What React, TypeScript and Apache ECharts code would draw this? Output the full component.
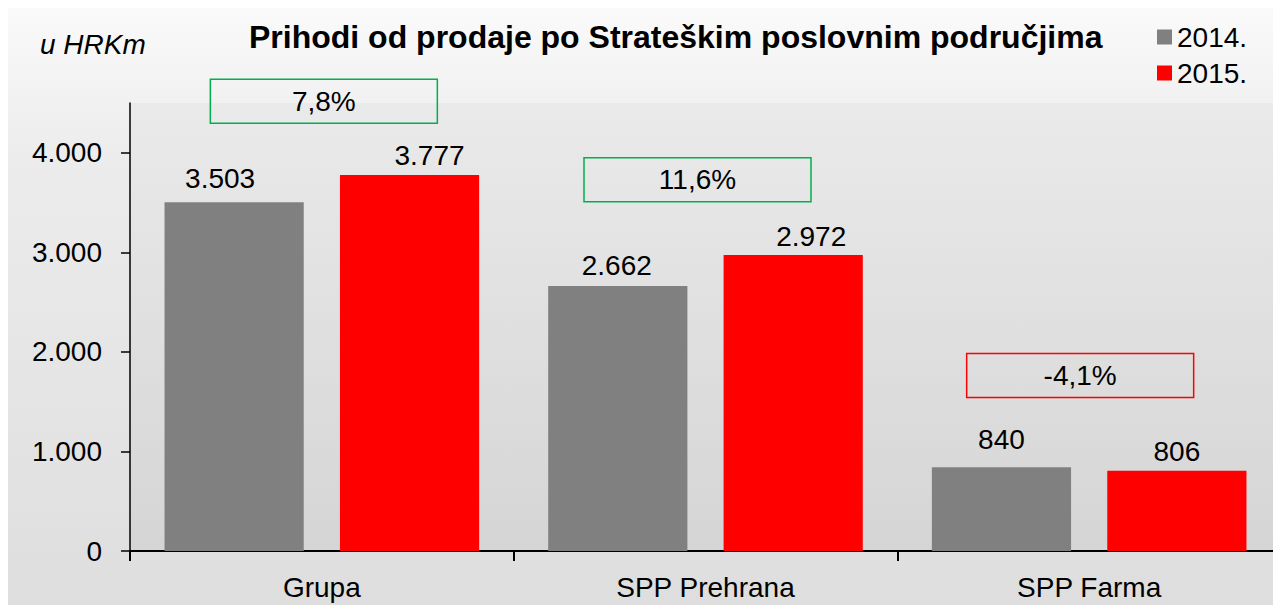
import React, { useEffect, useRef } from "react";
import * as echarts from "echarts";

const categories = ["Grupa", "SPP Prehrana", "SPP Farma"];
const values2014 = [3503, 2662, 840];
const values2015 = [3777, 2972, 806];
const changeLabels = ["7,8%", "11,6%", "-4,1%"];
// vertical anchor of each change box, in axis units (HRKm)
const changeLevels = [4518, 3729, 1764];
const yTickValues = [0, 1000, 2000, 3000, 4000];
const seriesNames = ["2014.", "2015."];

// manual label nudges as in the original
const offsets2014 = [[-14, -5], [-1, -1], [0, -9]];
const offsets2015 = [[20, 0], [18, 0], [0, 0]];
const boxOffsets = [[2, 0], [-8, 0], [-9, 0]];

const FONT = "'Liberation Sans', Arial, sans-serif";
const fmt = (n: number) => String(n).replace(/\B(?=(\d{3})+(?!\d))/g, ".");

export default function App() {
  const ref = useRef<HTMLDivElement>(null);
  useEffect(() => {
    if (!ref.current) return;
    const chart = echarts.init(ref.current, undefined, { renderer: "svg" });
    const barLabel = {
      show: true,
      position: "top",
      distance: 5,
      fontSize: 28,
      color: "#000",
      fontFamily: FONT,
      formatter: (p: any) => fmt(p.value),
    };
    chart.setOption({
      animation: false,
      backgroundColor: "transparent",
      textStyle: { fontFamily: FONT },
      title: [
        {
          text: "Prihodi od prodaje po Strateškim poslovnim područjima",
          left: 241,
          top: 13,
          padding: 0,
          textStyle: { fontSize: 32, fontWeight: "bold", color: "#000", fontFamily: FONT },
        },
        {
          text: "u HRKm",
          left: 32,
          top: 22,
          padding: 0,
          textStyle: { fontSize: 28, fontWeight: "normal", fontStyle: "italic", color: "#000", fontFamily: FONT },
        },
      ],
      legend: {
        data: seriesNames.map((n) => ({ name: n, icon: "rect" })),
        orient: "vertical",
        left: 1149,
        top: 15,
        padding: 0,
        itemWidth: 15,
        itemHeight: 15,
        itemGap: 8,
        textStyle: { fontSize: 28, color: "#000", fontFamily: FONT },
      },
      grid: {
        left: 122,
        right: 0,
        top: 95,
        bottom: 54,
        show: true,
        borderWidth: 0,
        backgroundColor: new echarts.graphic.LinearGradient(0, 0, 0, 1, [
          { offset: 0, color: "#eaeaea" },
          { offset: 1, color: "#d5d5d5" },
        ]),
      },
      xAxis: {
        type: "category",
        data: categories,
        axisLine: { lineStyle: { color: "#000", width: 2 } },
        axisTick: { show: true, length: 10, lineStyle: { color: "#000", width: 2 } },
        axisLabel: { fontSize: 28, color: "#000", margin: 22, fontFamily: FONT },
        splitLine: { show: false },
      },
      yAxis: {
        type: "value",
        min: 0,
        max: 4500,
        interval: 500,
        axisLine: { show: true, lineStyle: { color: "#000", width: 1.5 } },
        axisTick: { show: true, length: 9, customValues: yTickValues, lineStyle: { color: "#000", width: 1.5 } },
        axisLabel: {
          fontSize: 28,
          color: "#000",
          margin: 28,
          fontFamily: FONT,
          customValues: yTickValues,
          formatter: (v: number) => fmt(v),
        },
        splitLine: { show: false },
      },
      series: [
        {
          name: seriesNames[0],
          type: "bar",
          barCategoryGap: "18%",
          barGap: "26%",
          itemStyle: { color: "#808080" },
          label: barLabel,
          data: values2014.map((v, i) => ({ value: v, label: { offset: offsets2014[i] } })),
        },
        {
          name: seriesNames[1],
          type: "bar",
          barCategoryGap: "18%",
          barGap: "26%",
          itemStyle: { color: "#ff0000" },
          label: barLabel,
          data: values2015.map((v, i) => ({ value: v, label: { offset: offsets2015[i] } })),
        },
        {
          name: "change",
          type: "scatter",
          clip: false,
          silent: true,
          z: 5,
          symbol: "circle",
          symbolSize: 0,
          itemStyle: { opacity: 1, color: "rgba(0,0,0,0)" },
          data: categories.map((c, i) => ({
            value: [i, changeLevels[i]],
            label: {
              show: true,
              position: "inside",
              offset: boxOffsets[i],
              fontSize: 28,
              color: "#000",
              fontFamily: FONT,
              width: 227,
              height: 44,
              lineHeight: 44,
              padding: 0,
              align: "center",
              verticalAlign: "middle",
              borderColor: values2015[i] >= values2014[i] ? "#00b050" : "#ff0000",
              borderWidth: 1.5,
              formatter: () => changeLabels[i],
            },
          })),
        },
      ],
    });
    return () => chart.dispose();
  }, []);
  return (
    <div
      ref={ref}
      style={{
        width: 1273,
        height: 597,
        background: "linear-gradient(#fafafa, #ececec 25%, #dedede)",
      }}
    />
  );
}
